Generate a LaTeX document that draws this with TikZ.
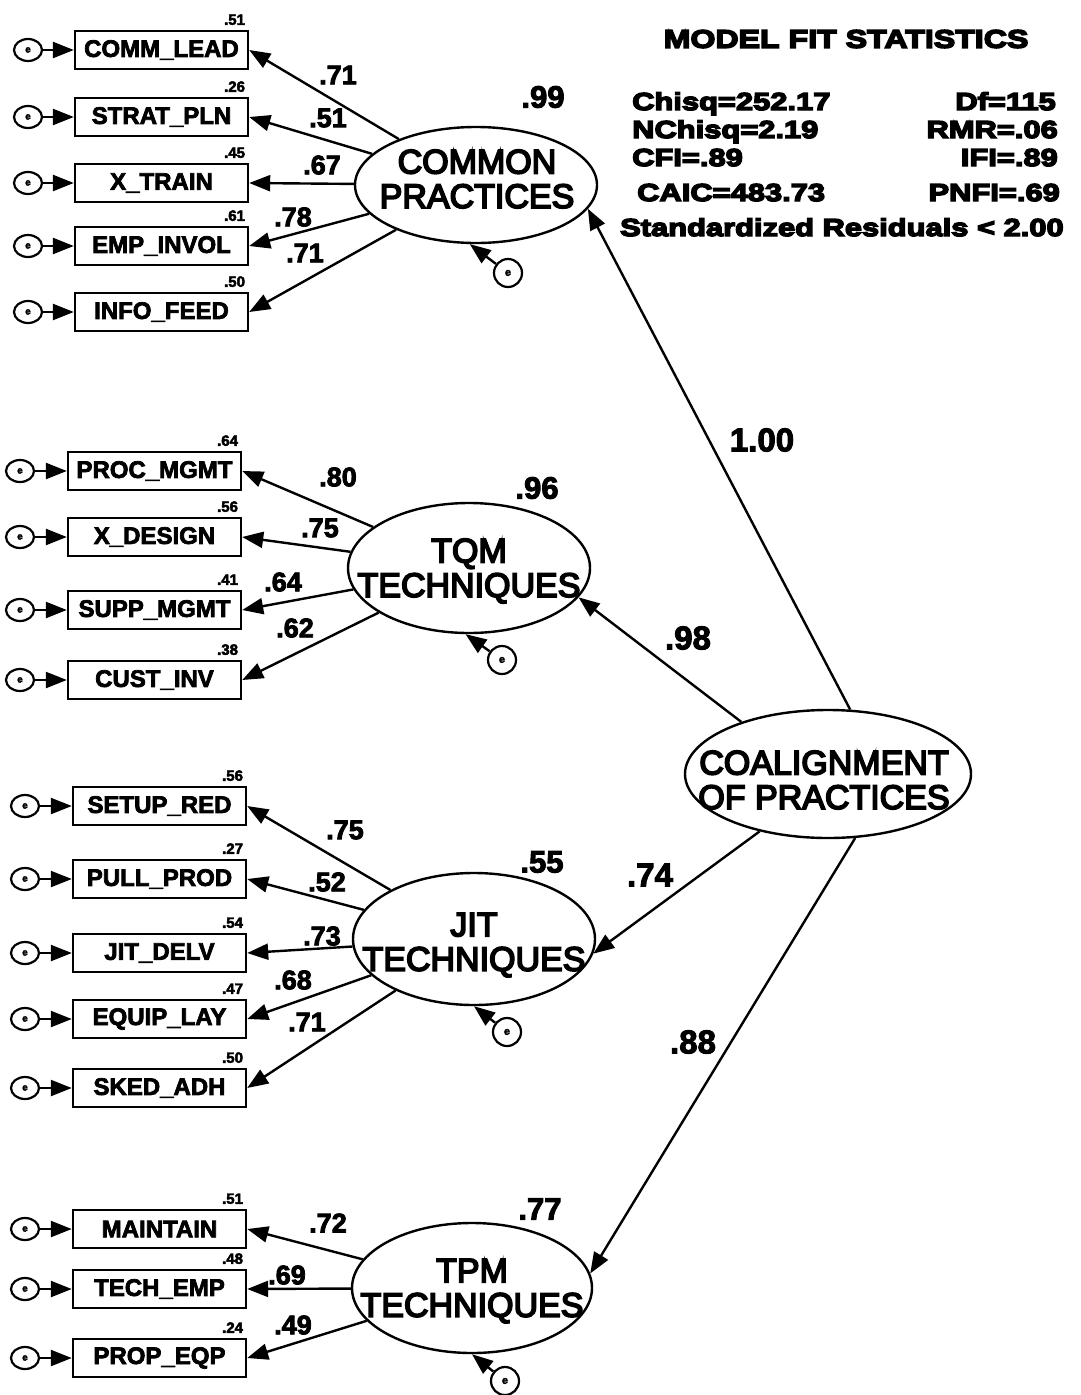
\documentclass[tikz,border=0pt]{standalone}
\usepackage{fontspec}
\setmainfont{Liberation Sans}
\newfontfamily\statfont[FakeStretch=1.26,FakeBold=6]{Liberation Sans}
\newfontfamily\latfont[FakeBold=5]{Liberation Sans}
\newfontfamily\boldfont[FakeBold=3]{Liberation Sans}
\usetikzlibrary{shapes.geometric,arrows.meta}
\begin{document}
\begin{tikzpicture}[x=1pt,y=-1pt,
  obs/.style={draw, line width=2.4pt, minimum width=173pt, minimum height=38pt, inner sep=0pt, font=\boldfont\bfseries\fontsize{24}{24}\selectfont},
  lat/.style={ellipse, draw, line width=2.4pt, inner sep=0pt},
  lattext/.style={align=center, inner sep=0pt, font=\latfont\fontsize{34}{34.5}\selectfont},
  err/.style={ellipse, draw, line width=2.2pt, minimum width=28pt, minimum height=22pt, inner sep=0pt, font=\boldfont\bfseries\fontsize{10}{10}\selectfont},
  errc/.style={circle, draw, line width=2.2pt, minimum size=28pt, inner sep=0pt, font=\boldfont\bfseries\fontsize{11}{11}\selectfont},
  arr/.style={line width=2.4pt, -{Triangle[length=21pt,width=16pt]}},
  r2/.style={font=\boldfont\bfseries\fontsize{15}{15}\selectfont, inner sep=0pt, anchor=base east},
  coef/.style={font=\boldfont\bfseries\fontsize{27}{27}\selectfont, inner sep=0pt},
  coefb/.style={font=\boldfont\bfseries\fontsize{31}{31}\selectfont, inner sep=0pt},
  coefs/.style={font=\boldfont\bfseries\fontsize{33}{33}\selectfont, inner sep=0pt},
  stat/.style={font=\statfont\bfseries\fontsize{24.5}{24.5}\selectfont, inner sep=0pt},
  stathead/.style={font=\statfont\bfseries\fontsize{25.5}{25.5}\selectfont, inner sep=0pt}
]
\fill[white] (0,0) rectangle (1081,1395);
\useasboundingbox (0,0) rectangle (1081,1395);

% ---------------- Latent variables
\node[lat, minimum width=242pt, minimum height=116pt] (cp) at (476,185) {};
\node[lattext] (cpT) at (477,179) {COMMON\\PRACTICES};
\node[lat, minimum width=242pt, minimum height=130pt] (tqm) at (469,568) {};
\node[lattext] (tqmT) at (469,571) {TQM\\TECHNIQUES};
\node[lat, minimum width=242pt, minimum height=132pt] (jit) at (474,939) {};
\node[lattext] (jitT) at (474,945) {JIT\\TECHNIQUES};
\node[lat, minimum width=240pt, minimum height=130pt] (tpm) at (472,1288) {};
\node[lattext] (tpmT) at (472,1291) {TPM\\TECHNIQUES};
\node[lat, minimum width=286pt, minimum height=128pt] (coal) at (828,774) {};
\node[lattext] (coalT) at (824,780) {COALIGNMENT\\OF PRACTICES};

% ---------------- Common practices indicators
\node[obs] (b1) at (161.5,50) {COMM\_LEAD};
\node[obs] (b2) at (161.5,117) {STRAT\_PLN};
\node[obs] (b3) at (161.5,183) {X\_TRAIN};
\node[obs] (b4) at (161.5,246) {EMP\_INVOL};
\node[obs] (b5) at (161.5,312) {INFO\_FEED};
% ---------------- TQM indicators
\node[obs] (b6) at (154.5,471) {PROC\_MGMT};
\node[obs] (b7) at (154.5,537) {X\_DESIGN};
\node[obs] (b8) at (154.5,610) {SUPP\_MGMT};
\node[obs] (b9) at (154.5,680) {CUST\_INV};
% ---------------- JIT indicators
\node[obs] (b10) at (159.5,806) {SETUP\_RED};
\node[obs] (b11) at (159.5,879) {PULL\_PROD};
\node[obs] (b12) at (159.5,953) {JIT\_DELV};
\node[obs] (b13) at (159.5,1019) {EQUIP\_LAY};
\node[obs] (b14) at (159.5,1088) {SKED\_ADH};
% ---------------- TPM indicators
\node[obs] (b15) at (159.5,1229) {MAINTAIN};
\node[obs] (b16) at (159.5,1289) {TECH\_EMP};
\node[obs] (b17) at (159.5,1358) {PROP\_EQP};

% ---------------- R squared labels
\foreach \b/\v in {b1/.51,b2/.26,b3/.45,b4/.61,b5/.50,b6/.64,b7/.56,b8/.41,b9/.38,
  b10/.56,b11/.27,b12/.54,b13/.47,b14/.50,b15/.51,b16/.48,b17/.24}{
  \node[r2] (r\b) at ([xshift=-4pt,yshift=5pt]\b.north east) {\v};
}

% ---------------- Indicator errors
\foreach \b/\x in {b1/28,b2/28,b3/28,b4/28,b5/28,b6/20,b7/20,b8/20,b9/20,
  b10/25,b11/25,b12/25,b13/25,b14/25,b15/25,b16/25,b17/25}{
  \node[err] (e\b) at (\x,0 |- \b.center) {\raisebox{-4pt}{e}};
  \draw[arr] (e\b) -- (\b.west);
}

% ---------------- Loadings
\foreach \b in {b1,b2,b3,b4,b5}{\draw[arr] (cp) -- (\b.east);}
\foreach \b in {b6,b7,b8,b9}{\draw[arr] (tqm) -- (\b.east);}
\foreach \b in {b10,b11,b12,b13,b14}{\draw[arr] (jit) -- (\b.east);}
\foreach \b in {b15,b16,b17}{\draw[arr] (tpm) -- (\b.east);}

% ---------------- Disturbances
\node[errc] (dcp) at (508,273) {\raisebox{-3pt}{e}};
\draw[arr] (dcp) -- (cp.-96);
\node[errc] (dtqm) at (502,660) {\raisebox{-3pt}{e}};
\draw[arr] (dtqm) -- (tqm.-93);
\node[errc] (djit) at (507,1032) {\raisebox{-3pt}{e}};
\draw[arr] (djit) -- (jit.-90);
\node[errc] (dtpm) at (505,1381) {\raisebox{-3pt}{e}};
\draw[arr] (dtpm) -- (tpm.-90);

% ---------------- Structural paths
\draw[arr] (coal.71) -- (cp.-12);
\draw[arr] (coal.149) -- (tqm.-15);
\draw[arr] (coal.-140) -- (jit.-7);
\draw[arr] (coal.-67) -- (tpm.7);

% ---------------- Coefficients
\node[coef] (l1) at (338,75) {.71};
\node[coef] (l2) at (328,118) {.51};
\node[coef] (l3) at (322,165) {.67};
\node[coef] (l4) at (293,217) {.78};
\node[coef] (l5) at (305,253) {.71};
\node[coef] (l6) at (338,477) {.80};
\node[coef] (l7) at (320,528) {.75};
\node[coef] (l8) at (283,582) {.64};
\node[coef] (l9) at (295,628) {.62};
\node[coef] (l10) at (345,830) {.75};
\node[coef] (l11) at (327,882) {.52};
\node[coef] (l12) at (322,936) {.73};
\node[coef] (l13) at (293,980) {.68};
\node[coef] (l14) at (307,1022) {.71};
\node[coef] (l15) at (328,1223) {.72};
\node[coef] (l16) at (287,1275) {.69};
\node[coef] (l17) at (293,1325) {.49};
\node[coefb] (q1) at (543,97) {.99};
\node[coefb] (q2) at (537,488) {.96};
\node[coefb] (q3) at (542,862) {.55};
\node[coefb] (q4) at (540,1209) {.77};
\node[coefs] (s1) at (762,440) {1.00};
\node[coefs] (s2) at (688,638) {.98};
\node[coefs] (s3) at (650,875) {.74};
\node[coefs] (s4) at (693,1042) {.88};

% ---------------- Model fit statistics
\node[stathead] (mfs) at (846,39) {MODEL FIT STATISTICS};
\node[stat, anchor=base west] (st1) at (632,110) {Chisq=252.17};
\node[stat, anchor=base west] (st2) at (632,138) {NChisq=2.19};
\node[stat, anchor=base west] (st3) at (632,166) {CFI=.89};
\node[stat, anchor=base west] (st4) at (637,201) {CAIC=483.73};
\node[stat, anchor=base east] (st5) at (1056,110) {Df=115};
\node[stat, anchor=base east] (st6) at (1058,138) {RMR=.06};
\node[stat, anchor=base east] (st7) at (1058,166) {IFI=.89};
\node[stat, anchor=base east] (st8) at (1060,201) {PNFI=.69};
\node[stat, anchor=base west] (st9) at (620,236) {Standardized Residuals < 2.00};
\end{tikzpicture}
\end{document}
